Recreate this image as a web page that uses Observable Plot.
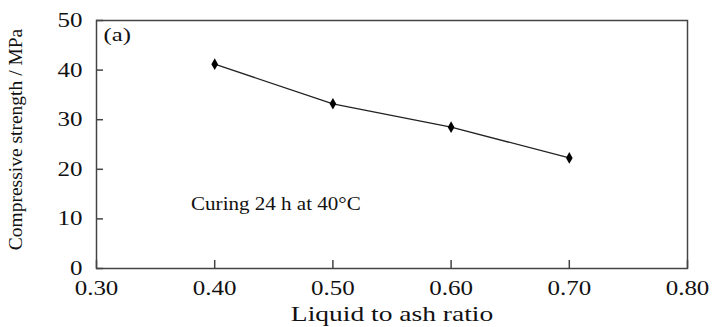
<!DOCTYPE html>
<html>
<head>
<meta charset="utf-8">
<script src="https://cdn.jsdelivr.net/npm/d3@7"></script>
<script src="https://cdn.jsdelivr.net/npm/@observablehq/plot@0.6"></script>
<style>
  html, body { margin: 0; padding: 0; background: #fff; }
  #chart svg { display: block; }
</style>
</head>
<body>
<div id="chart"></div>
<script>
const ratio = [0.40, 0.50, 0.60, 0.70];
const strength = [41.2, 33.2, 28.5, 22.3];
const xTicks = [0.30, 0.40, 0.50, 0.60, 0.70, 0.80];
const yTicks = [0, 10, 20, 30, 40, 50];
const xLabel = "Liquid to ash ratio";
const yLabel = "Compressive strength / MPa";
const panelLabel = "(a)";
const note = "Curing 24 h at 40°C";

const data = ratio.map((r, i) => ({ratio: r, strength: strength[i]}));
const font = "'Liberation Serif', 'Times New Roman', serif";
const axisColor = "#444";

const chart = Plot.plot({
  width: 716,
  height: 327,
  marginLeft: 96,
  marginRight: 29,
  marginTop: 20,
  marginBottom: 59,
  style: {fontFamily: font, background: "#fff", color: "#111"},
  x: {domain: [0.30, 0.80]},
  y: {domain: [0, 50]},
  marks: [
    Plot.frame({stroke: axisColor, strokeWidth: 1.5}),
    Plot.axisX({ticks: xTicks, tickFormat: d3.format(".2f"), tickSize: -8, tickPadding: 20, stroke: axisColor, strokeWidth: 1.5, fontSize: 20, fill: "#111", label: null}),
    Plot.axisY({ticks: yTicks, tickSize: -7, tickPadding: 21, stroke: axisColor, strokeWidth: 1.5, fontSize: 20, fill: "#111", label: null}),
    Plot.text([xLabel], {frameAnchor: "bottom", dy: 52, fontSize: 22, fill: "#111"}),
    Plot.text([yLabel], {frameAnchor: "left", dx: -81, dy: -5, rotate: -90, textAnchor: "middle", fontSize: 19.5, fill: "#111"}),
    Plot.text([panelLabel], {frameAnchor: "top-left", dx: 7, dy: 7, textAnchor: "start", lineAnchor: "top", fontSize: 19, fill: "#111"}),
    Plot.text([note], {x: () => 0.38, y: () => 13, textAnchor: "start", fontSize: 19.5, fill: "#111"}),
    Plot.line(data, {x: "ratio", y: "strength", stroke: "#222", strokeWidth: 1.3}),
    Plot.dot(data, {x: "ratio", y: "strength", symbol: "diamond", r: 3.5, fill: "#000", stroke: "none"})
  ]
});

// The reference typography is horizontally stretched; widen glyphs around each text's anchor.
const stretch = {[xLabel]: 1.25, [note]: 1.08, [panelLabel]: 1.3, [yLabel]: 1};
chart.querySelectorAll("text").forEach(t => {
  const s = stretch[t.textContent] ?? 1.25;
  if (s === 1) return;
  const xs = t.getAttribute("x");
  let x = 0;
  if (xs != null && /^-?[\d.]+$/.test(xs.trim())) { x = +xs; t.removeAttribute("x"); }
  const tr = t.getAttribute("transform") || "";
  t.setAttribute("transform", `${tr} translate(${x},0) scale(${s},1)`.trim());
});
document.getElementById("chart").appendChild(chart);
</script>
</body>
</html>
